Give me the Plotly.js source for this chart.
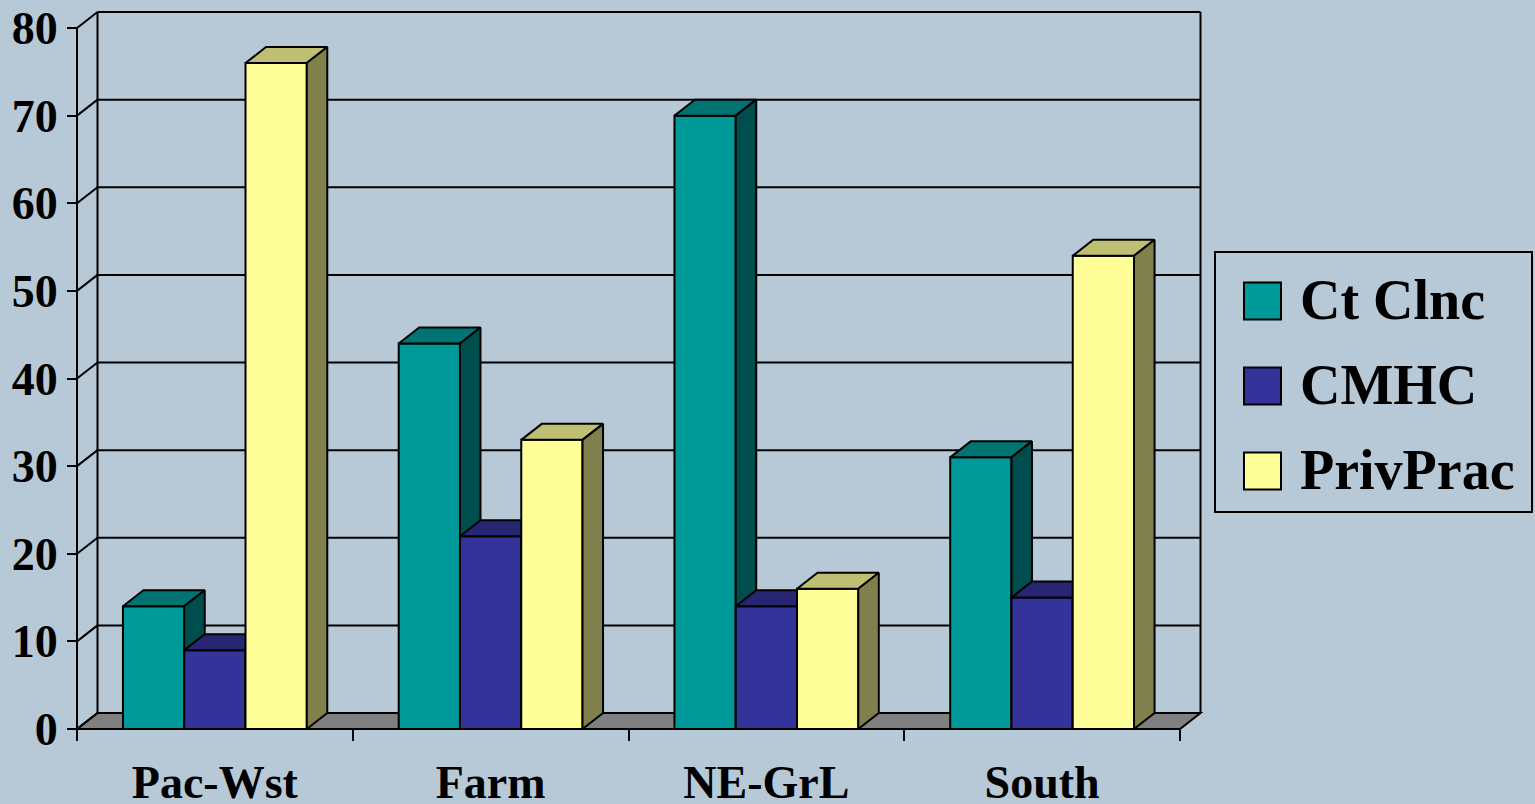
<!DOCTYPE html>
<html>
<head>
<meta charset="utf-8">
<script src="https://cdn.plot.ly/plotly-3.0.1.min.js"></script>
<style>
  html, body { margin: 0; padding: 0; background: #B7C9D6; }
  #chart { width: 1535px; height: 804px; }
</style>
</head>
<body>
<div id="chart"></div>
<script>
// Survey data: share (%) by region and setting
const categories = ['Pac-Wst', 'Farm', 'NE-GrL', 'South'];
const seriesNames = ['Ct Clnc', 'CMHC', 'PrivPrac'];
const ctClnc = [14, 44, 70, 31];
const cmhc = [9, 22, 14, 15];
const privPrac = [76, 33, 16, 54];
const yTicks = [0, 10, 20, 30, 40, 50, 60, 70, 80];

const seriesValues = [ctClnc, cmhc, privPrac];
// front, top and side face colours for each series
const faceColors = [
  { front: '#009999', top: '#007373', side: '#004D4D' },
  { front: '#333399', top: '#262673', side: '#1A1A4D' },
  { front: '#FFFF99', top: '#BFBF73', side: '#80804D' }
];

// ---- page geometry (pixels) ----
const W = 1535, H = 804;
const pxLeft = 77, pxRight = 1180, pxBase = 729, pxTop = 28;
const depthPx = { x: 20.5, y: 16 };
const yMax = 80;

const kx = categories.length / (pxRight - pxLeft);   // data units per pixel (x)
const ky = yMax / (pxBase - pxTop);                  // data units per pixel (y)
const xLo = -0.5, xHi = categories.length - 0.5;
const DX = depthPx.x * kx, DY = depthPx.y * ky;
const barW = 1 / 4.5;                                // 150% gap width

// ---- 3-D bar faces, drawn back-to-front per series ----
function facePaths(vals, k) {
  const fx = [], fy = [], tx = [], ty = [], sx = [], sy = [];
  vals.forEach((v, c) => {
    const xl = c - 1.5 * barW + k * barW, xr = xl + barW;
    fx.push(xl, xr, xr, xl, xl, null);
    fy.push(0, 0, v, v, 0, null);
    tx.push(xl, xr, xr + DX, xl + DX, xl, null);
    ty.push(v, v, v + DY, v + DY, v, null);
    sx.push(xr, xr + DX, xr + DX, xr, xr, null);
    sy.push(0, DY, v + DY, v, 0, null);
  });
  return { front: [fx, fy], top: [tx, ty], side: [sx, sy] };
}

const traces = [];
seriesValues.forEach((vals, k) => {
  const p = facePaths(vals, k);
  ['front', 'top', 'side'].forEach(face => {
    traces.push({
      type: 'scatter', mode: 'lines',
      x: p[face][0], y: p[face][1],
      fill: 'toself', fillcolor: faceColors[k][face],
      line: { color: '#000', width: 2 },
      connectgaps: false,
      name: seriesNames[k],
      hoverinfo: 'skip', showlegend: false
    });
  });
});

// ---- walls, floor and gridlines ----
const lineStyle = { color: '#000', width: 2 };
const shapes = [];
shapes.push({
  type: 'path', xref: 'x', yref: 'y', layer: 'below',
  path: `M${xLo},0 L${xHi},0 L${xHi + DX},${DY} L${xLo + DX},${DY} Z`,
  fillcolor: '#808080', line: lineStyle
});
yTicks.forEach(v => {
  shapes.push({ type: 'line', xref: 'x', yref: 'y', layer: 'below',
    x0: xLo + DX, x1: xHi + DX, y0: v + DY, y1: v + DY, line: lineStyle });
  shapes.push({ type: 'line', xref: 'x', yref: 'y', layer: 'below',
    x0: xLo, x1: xLo + DX, y0: v, y1: v + DY, line: lineStyle });
});
shapes.push({ type: 'line', xref: 'x', yref: 'y', layer: 'below',
  x0: xLo + DX, x1: xLo + DX, y0: DY, y1: yMax + DY, line: lineStyle });
shapes.push({ type: 'line', xref: 'x', yref: 'y', layer: 'below',
  x0: xHi + DX, x1: xHi + DX, y0: DY, y1: yMax + DY, line: lineStyle });
shapes.push({ type: 'line', xref: 'x', yref: 'y', layer: 'below',
  x0: xLo, x1: xLo, y0: 0, y1: yMax, line: lineStyle });

// ---- legend box ----
const px2x = p => p / W, px2y = p => 1 - p / H;
const legend = { left: 1215, right: 1532, top: 252, bottom: 512,
                 swLeft: 1244, swSize: 37, textLeft: 1298, rows: [300, 385, 470] };
shapes.push({ type: 'rect', xref: 'paper', yref: 'paper',
  x0: px2x(legend.left), x1: px2x(legend.right),
  y0: px2y(legend.bottom), y1: px2y(legend.top), line: lineStyle });
const annotations = [];
seriesNames.forEach((name, k) => {
  const cy = legend.rows[k];
  shapes.push({ type: 'rect', xref: 'paper', yref: 'paper',
    x0: px2x(legend.swLeft), x1: px2x(legend.swLeft + legend.swSize),
    y0: px2y(cy + legend.swSize / 2 + 1), y1: px2y(cy - legend.swSize / 2 + 1),
    fillcolor: faceColors[k].front, line: lineStyle });
  annotations.push({ xref: 'paper', yref: 'paper',
    x: px2x(legend.textLeft), y: px2y(cy), xanchor: 'left', yanchor: 'middle',
    text: name, showarrow: false,
    font: { family: 'Liberation Serif', size: 56, color: '#000', weight: 'bold' } });
});

const tickFont = { family: 'Liberation Serif', size: 46, color: '#000', weight: 'bold' };
const layout = {
  width: W, height: H,
  margin: { l: 0, r: 0, t: 0, b: 0 },
  paper_bgcolor: '#B7C9D6', plot_bgcolor: '#B7C9D6',
  showlegend: false,
  xaxis: {
    domain: [0, 1],
    range: [xLo - pxLeft * kx, xHi + (W - pxRight) * kx],
    anchor: 'free', position: (H - pxBase) / H,
    tickmode: 'array', tickvals: categories.map((_, i) => i), ticktext: categories,
    ticks: '', showgrid: false, zeroline: false, showline: false,
    tickfont: tickFont, ticklabelstandoff: 22,
    minor: { tickmode: 'array', tickvals: categories.map((_, i) => i - 0.5).concat([xHi]),
             ticks: 'outside', ticklen: 11, tickwidth: 2, tickcolor: '#000', showgrid: false }
  },
  yaxis: {
    domain: [0, 1],
    range: [-(H - pxBase) * ky, yMax + pxTop * ky],
    anchor: 'free', position: pxLeft / W,
    tickmode: 'array', tickvals: yTicks,
    ticks: 'outside', ticklen: 10, tickwidth: 2, tickcolor: '#000',
    showgrid: false, zeroline: false, showline: false,
    tickfont: tickFont
  },
  shapes: shapes,
  annotations: annotations
};

Plotly.newPlot('chart', traces, layout, { staticPlot: true, displayModeBar: false });
</script>
</body>
</html>
